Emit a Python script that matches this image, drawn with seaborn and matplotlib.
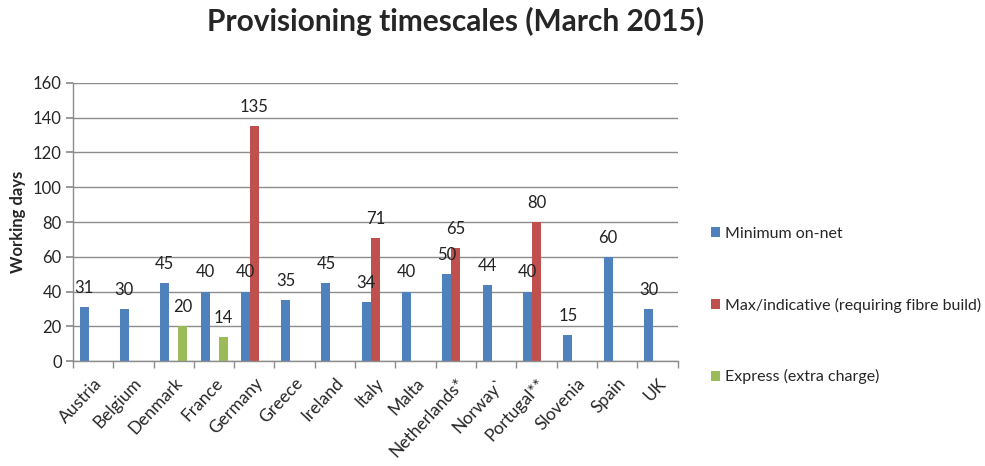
import numpy as np
import pandas as pd
import matplotlib
matplotlib.use("Agg")
import matplotlib.pyplot as plt
from matplotlib.patches import Patch
from matplotlib.ticker import FixedLocator
import seaborn as sns

countries = ["Austria", "Belgium", "Denmark", "France", "Germany", "Greece", "Ireland",
             "Italy", "Malta", "Netherlands*", "Norway`", "Portugal**", "Slovenia", "Spain", "UK"]
minimum_on_net = [31, 30, 45, 40, 40, 35, 45, 34, 40, 50, 44, 40, 15, 60, 30]
max_indicative = [np.nan, np.nan, np.nan, np.nan, 135, np.nan, np.nan, 71, np.nan, 65, np.nan, 80, np.nan, np.nan, np.nan]
express = [np.nan, np.nan, 20, 14, np.nan, np.nan, np.nan, np.nan, np.nan, np.nan, np.nan, np.nan, np.nan, np.nan, np.nan]
series_names = ["Minimum on-net", "Max/indicative (requiring fibre build)", "Express (extra charge)"]
colors = ["#4F81BD", "#C0504D", "#9BBB59"]

rows = []
for name, vals in zip(series_names, [minimum_on_net, max_indicative, express]):
    for c, v in zip(countries, vals):
        rows.append({"country": c, "series": name, "days": v})
df = pd.DataFrame(rows)

sns.set_theme(style="white")
plt.rcParams['font.family'] = ['Lato', 'DejaVu Sans']

fig = plt.figure(figsize=(9.85, 4.66), dpi=100)
ax = fig.add_axes([0.074, 0.225, 0.614, 0.597])

sns.barplot(data=df, x="country", y="days", hue="series", order=countries,
            hue_order=series_names, palette=colors, width=0.67, dodge=True,
            saturation=1, legend=False, ax=ax, err_kws={"linewidth": 0},
            linewidth=0, edgecolor="none")

for cont in ax.containers:
    labels = []
    for b in cont:
        h = b.get_height()
        labels.append("" if (h is None or np.isnan(h)) else f"{int(round(h))}")
    ax.bar_label(cont, labels=labels, padding=8, fontsize=12, color="#222222")

ax.set_xlim(-0.5, len(countries) - 0.5)
ax.set_ylim(0, 160)
ax.set_yticks(range(0, 161, 20))
ax.yaxis.grid(True, color="#8c8c8c", linewidth=1)
ax.set_axisbelow(True)
for s in ["top", "right"]:
    ax.spines[s].set_visible(False)
for s in ["left", "bottom"]:
    ax.spines[s].set_color("#8c8c8c")
    ax.spines[s].set_linewidth(1)

ax.set_xlabel("")
ax.set_ylabel("Working days", fontsize=12, fontweight="bold", labelpad=5)
ax.tick_params(axis="y", left=True, length=5, color="#8c8c8c", labelsize=12, pad=3)
ax.tick_params(axis="x", bottom=False, labelsize=12.5, pad=4)
ax.xaxis.set_minor_locator(FixedLocator(np.arange(-0.5, len(countries), 1.0)))
ax.tick_params(axis="x", which="minor", bottom=True, length=5, color="#8c8c8c")
plt.setp(ax.get_xticklabels(), rotation=47, ha="right", rotation_mode="anchor")

fig.suptitle("Provisioning timescales (March 2015)", fontsize=21.5, fontweight="bold",
             x=0.462, y=0.985)

handles = [Patch(facecolor=c, edgecolor="none") for c in colors]
fig.legend(handles, series_names, loc="upper left", bbox_to_anchor=(0.715, 0.527),
           frameon=False, fontsize=11.5, handlelength=0.6, handleheight=0.6,
           handletextpad=0.3, labelspacing=3.55, borderaxespad=0)

fig.savefig("out.png", dpi=100)
